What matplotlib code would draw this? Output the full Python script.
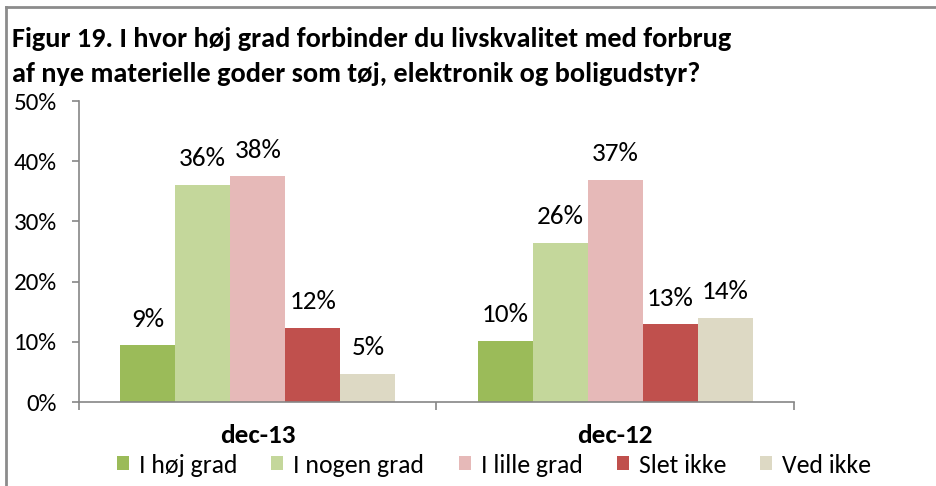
import matplotlib
matplotlib.use("Agg")
import matplotlib.pyplot as plt
from matplotlib.lines import Line2D
from matplotlib.patches import Patch

plt.rcParams['font.family'] = ['Carlito', 'Lato', 'DejaVu Sans']

categories = ["dec-13", "dec-12"]
series = ["I høj grad", "I nogen grad", "I lille grad", "Slet ikke", "Ved ikke"]
values = {
    "I høj grad":   [9.4, 10.1],
    "I nogen grad": [36.1, 26.4],
    "I lille grad": [37.5, 36.9],
    "Slet ikke":    [12.3, 12.9],
    "Ved ikke":     [4.7, 14.0],
}
labels = {
    "I høj grad":   ["9%", "10%"],
    "I nogen grad": ["36%", "26%"],
    "I lille grad": ["38%", "37%"],
    "Slet ikke":    ["12%", "13%"],
    "Ved ikke":     ["5%", "14%"],
}
colors = ["#9BBB59", "#C4D79B", "#E6B9B8", "#C0504D", "#DDD9C4"]
yticks = [0, 10, 20, 30, 40, 50]
ytick_labels = ["0%", "10%", "20%", "30%", "40%", "50%"]
title_lines = ["Figur 19. I hvor høj grad forbinder du livskvalitet med forbrug",
               "af nye materielle goder som tøj, elektronik og boligudstyr?"]

W, H = 937, 486
fig = plt.figure(figsize=(W / 100, H / 100), dpi=100)

def px(x0, y0, x1, y1):
    return [x0 / W, 1 - y1 / H, (x1 - x0) / W, (y1 - y0) / H]

ax = fig.add_axes(px(79, 101, 794, 402))
axis_col = "#868686"
bw = 0.154
centers = [0.5, 1.5]
for i, s in enumerate(series):
    xs = [c + (i - 2) * bw for c in centers]
    bars = ax.bar(xs, values[s], width=bw, color=colors[i], label=s, zorder=2)
    for b, lab in zip(bars, labels[s]):
        ax.annotate(lab, (b.get_x() + b.get_width() / 2, b.get_height()),
                    xytext=(0, 13.5), textcoords="offset points",
                    ha="center", va="baseline", fontsize=19.5, color="#000000")

ax.set_xlim(0, 2)
ax.set_ylim(0, 50)
ax.set_yticks(yticks)
ax.set_yticklabels(ytick_labels, fontsize=18)
ax.set_xticks([0, 1, 2])
ax.set_xticklabels([])
ax.tick_params(axis="y", direction="out", length=5, color=axis_col, width=1.2, pad=11)
ax.tick_params(axis="x", direction="out", length=6, color=axis_col, width=1.2)
for sp in ["top", "right"]:
    ax.spines[sp].set_visible(False)
for sp in ["left", "bottom"]:
    ax.spines[sp].set_color(axis_col)
    ax.spines[sp].set_linewidth(1.2)

for c, cat in zip(centers, categories):
    ax.text(c, -5.6, cat, transform=ax.transData, ha="center", va="center",
            fontsize=19.5, fontweight="bold")

handles = [Patch(facecolor=colors[i], edgecolor="none") for i in range(len(series))]
fig.legend(handles, series, loc="center", bbox_to_anchor=(494 / W, 1 - 465 / H),
           ncol=5, frameon=False, fontsize=18.5, handlelength=0.47, handleheight=0.47,
           handletextpad=0.39, columnspacing=1.33, borderpad=0, borderaxespad=0)

fig.text(12 / W, 1 - 47 / H, title_lines[0],
         ha="left", va="baseline", fontsize=20.3, fontweight="bold")
fig.text(12 / W, 1 - 82 / H, title_lines[1],
         ha="left", va="baseline", fontsize=20.3, fontweight="bold")

# outer frame lines (top and left)
fig.add_artist(Line2D([6 / W, 1], [1 - 7 / H, 1 - 7 / H], color="#8C8C8C", lw=2))
fig.add_artist(Line2D([6 / W, 6 / W], [0, 1 - 7 / H], color="#8C8C8C", lw=2))

fig.savefig("out.png", dpi=100)
